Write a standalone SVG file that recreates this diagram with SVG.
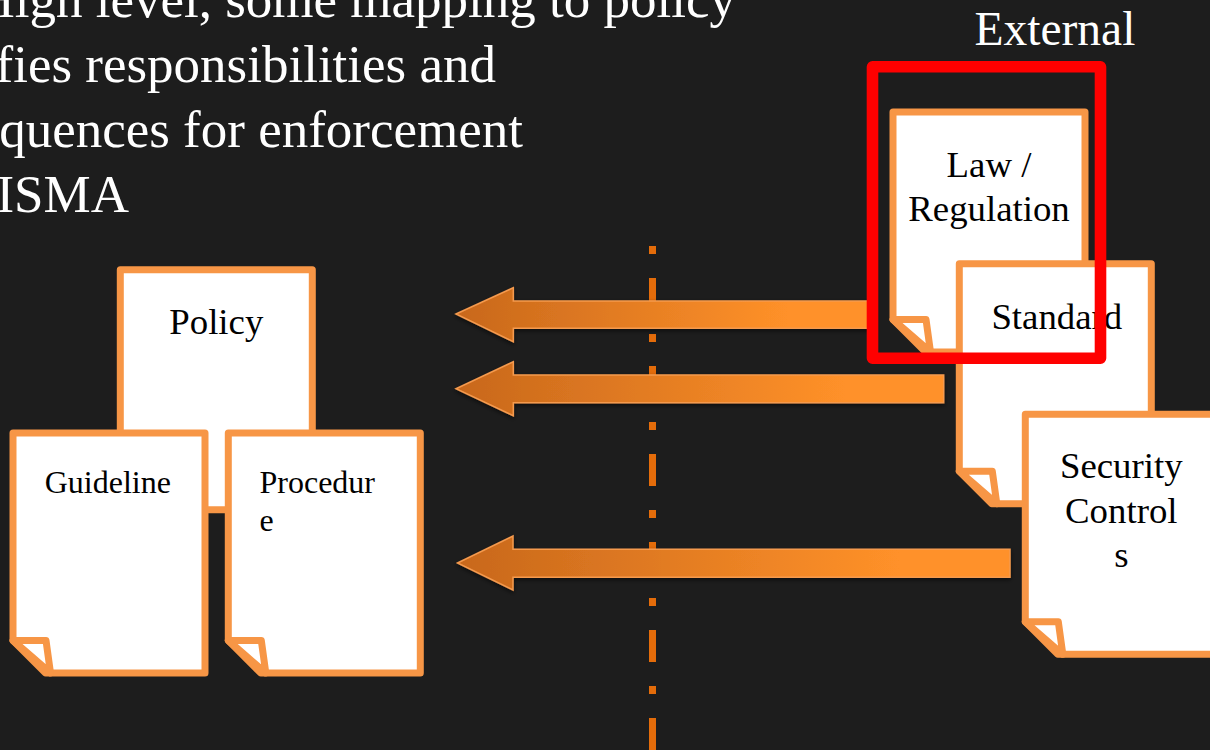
<svg xmlns="http://www.w3.org/2000/svg" xmlns:xlink="http://www.w3.org/1999/xlink" width="1210" height="750" viewBox="0 0 1210 750">
  <style>
    text { font-family: 'Liberation Serif', 'Times New Roman', Tinos, 'DejaVu Serif', serif; }
    .heading { fill: #ffffff; font-size: 53px; }
    .title { fill: #ffffff; font-size: 47.5px; }
    .label { fill: #000000; font-size: 36.8px; }
    .label-sm { fill: #000000; font-size: 32px; }
    .page { fill: #ffffff; stroke: #F79646; stroke-width: 7; stroke-linejoin: round; }
    .arrow { stroke: #F59A4E; stroke-width: 1.5; stroke-linejoin: miter; filter: url(#shadow); }
  </style>
  <defs>
    <!-- document page with a folded bottom-left corner, 192 x 240 -->
    <g id="page-shape">
      <path class="page" d="M0,0 H192 V240 H32.5 L0,207.5 Z"/>
      <path class="page" d="M0,207.5 H33 L37.5,240 Z"/>
    </g>
    <linearGradient id="arrow-fill" x1="0" y1="0" x2="1" y2="0">
      <stop offset="0" stop-color="#C8681C"/>
      <stop offset="0.8" stop-color="#FF9129"/>
      <stop offset="1" stop-color="#FF9129"/>
    </linearGradient>
    <filter id="shadow" x="-5%" y="-30%" width="110%" height="160%">
      <feDropShadow dx="0" dy="2" stdDeviation="2" flood-color="#000000" flood-opacity="0.55"/>
    </filter>
  </defs>

  <rect width="1210" height="750" fill="#1D1D1D"/>

  <!-- bullet text (runs past the left edge) -->
  <g id="heading-text" class="heading" text-anchor="end">
    <text x="736" y="17">High level, some mapping to policy</text>
    <text x="496" y="82">fies responsibilities and</text>
    <text x="523" y="147">quences for enforcement</text>
    <text x="129" y="212">ISMA</text>
  </g>
  <text id="external-title" class="title" x="974.5" y="45">External</text>

  <!-- boundary line -->
  <line x1="652.5" y1="246" x2="652.5" y2="750" stroke="#E46C0A" stroke-width="7" stroke-dasharray="8 24 32 24"/>

  <!-- internal documents -->
  <g id="policy" transform="translate(120.3,269.7)">
    <use xlink:href="#page-shape"/>
    <text class="label" x="96" y="64.3" text-anchor="middle">Policy</text>
  </g>
  <g id="guideline" transform="translate(13,433)">
    <use xlink:href="#page-shape"/>
    <text class="label-sm" x="31.7" y="60.3">Guideline</text>
  </g>
  <g id="procedure" transform="translate(228.3,433)">
    <use xlink:href="#page-shape"/>
    <text class="label-sm" x="31.2" y="60.3">Procedur</text>
    <text class="label-sm" x="31.2" y="97.7">e</text>
  </g>

  <!-- external documents -->
  <g id="law-regulation" transform="translate(893,112)">
    <use xlink:href="#page-shape"/>
    <text class="label" x="96" y="64.7" text-anchor="middle">Law /</text>
    <text class="label" x="96" y="109" text-anchor="middle">Regulation</text>
  </g>
  <g id="standard" transform="translate(959.3,263.7)">
    <use xlink:href="#page-shape"/>
    <text class="label" x="97.5" y="65.6" text-anchor="middle">Standard</text>
  </g>
  <g id="security-controls" transform="translate(1025.3,414.3)">
    <use xlink:href="#page-shape"/>
    <text class="label" x="96" y="63.4" text-anchor="middle">Security</text>
    <text class="label" x="96" y="108.4" text-anchor="middle">Control</text>
    <text class="label" x="96" y="152.4" text-anchor="middle">s</text>
  </g>

  <!-- connectors: block arrows pointing inward -->
  <g id="connectors" fill="url(#arrow-fill)">
    <polygon class="arrow" points="456,314 513.3,287.7 513.3,301 872,301 872,328.3 513.3,328.3 513.3,341.7"/>
    <polygon class="arrow" points="456,388.7 513.3,361.7 513.3,375 943.7,375 943.7,402.7 513.3,402.7 513.3,415.7"/>
    <polygon class="arrow" points="457.5,563 513,536 513,549.3 1010,549.3 1010,577.3 513,577.3 513,590"/>
  </g>

  <!-- highlight around the external law document -->
  <g id="highlight">
    <rect x="872.5" y="66.8" width="228" height="291.4" fill="none" stroke="#FF0000" stroke-width="11.6" stroke-linejoin="round"/>
  </g>
</svg>
